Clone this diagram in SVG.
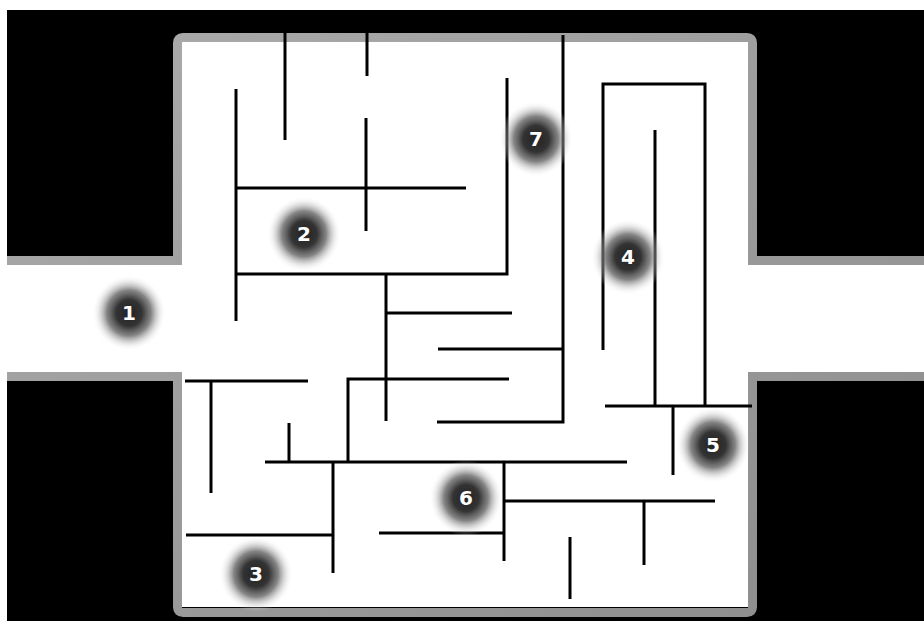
<svg xmlns="http://www.w3.org/2000/svg" width="924" height="621" viewBox="0 0 924 621">
<defs>
<radialGradient id="blob" cx="0.5" cy="0.5" r="0.5">
<stop offset="0" stop-color="#222" stop-opacity="1"/>
<stop offset="0.35" stop-color="#333" stop-opacity="1"/>
<stop offset="0.6" stop-color="#666" stop-opacity="0.8"/>
<stop offset="0.82" stop-color="#bbb" stop-opacity="0.35"/>
<stop offset="1" stop-color="#fff" stop-opacity="0"/>
</radialGradient>
<linearGradient id="bdr" x1="0" y1="0" x2="1" y2="1">
<stop offset="0" stop-color="#ababab"/>
<stop offset="1" stop-color="#8c8c8c"/>
</linearGradient>
</defs>
<style>
.wall{fill:none;stroke:#000;stroke-width:3;stroke-linecap:butt;stroke-linejoin:miter}
.num{font-family:"DejaVu Sans",Verdana,sans-serif;font-weight:bold;font-size:20px;fill:#fff;text-anchor:middle;dominant-baseline:central}
</style>
<rect x="0" y="0" width="924" height="621" fill="#fff"/>
<rect x="7" y="10" width="917" height="611" fill="#000"/>
<g id="floor">
<rect x="182" y="42" width="566" height="565" fill="#fff"/>
<rect x="7" y="265" width="917" height="107" fill="#fff"/>
<path d="M7 260.5 H177.5 V43 Q177.5 37.5 183 37.5 H747 Q752.5 37.5 752.5 43 V260.5 H924 M924 376.5 H752.5 V607 Q752.5 612.5 747 612.5 H183 Q177.5 612.5 177.5 607 V376.5 H7" fill="none" stroke="url(#bdr)" stroke-width="9"/>
</g>
<g id="connectors">
<path class="wall" d="M236 89 V321"/>
<path class="wall" d="M285 33 V140"/>
<path class="wall" d="M367 33 V76"/>
<path class="wall" d="M366 118 V231"/>
<path class="wall" d="M236 188 H466"/>
<path class="wall" d="M236 274 H507 V78"/>
<path class="wall" d="M563 35 V422 H437"/>
<path class="wall" d="M386 274 V421"/>
<path class="wall" d="M386 313 H512"/>
<path class="wall" d="M438 349 H563"/>
<path class="wall" d="M348 462 V379 H509"/>
<path class="wall" d="M603 350 V84 H705 V406"/>
<path class="wall" d="M655 130 V406"/>
<path class="wall" d="M605 406 H752"/>
<path class="wall" d="M673 406 V475"/>
<path class="wall" d="M265 462 H627"/>
<path class="wall" d="M289 423 V462"/>
<path class="wall" d="M185 381 H308"/>
<path class="wall" d="M211 381 V493"/>
<path class="wall" d="M333 462 V573"/>
<path class="wall" d="M186 535 H333"/>
<path class="wall" d="M504 462 V561"/>
<path class="wall" d="M504 501 H715"/>
<path class="wall" d="M379 533 H504"/>
<path class="wall" d="M644 501 V565"/>
<path class="wall" d="M570 537 V599"/>
</g>
<g id="n1"><ellipse cx="129" cy="313" rx="37" ry="38" fill="url(#blob)"/><text class="num" x="129" y="313">1</text></g>
<g id="n2"><ellipse cx="304" cy="234" rx="37" ry="38" fill="url(#blob)"/><text class="num" x="304" y="234">2</text></g>
<g id="n3"><ellipse cx="256" cy="574" rx="37" ry="38" fill="url(#blob)"/><text class="num" x="256" y="574">3</text></g>
<g id="n4"><ellipse cx="628" cy="257" rx="37" ry="38" fill="url(#blob)"/><text class="num" x="628" y="257">4</text></g>
<g id="n5"><ellipse cx="713" cy="445" rx="37" ry="38" fill="url(#blob)"/><text class="num" x="713" y="445">5</text></g>
<g id="n6"><ellipse cx="466" cy="498" rx="37" ry="38" fill="url(#blob)"/><text class="num" x="466" y="498">6</text></g>
<g id="n7"><ellipse cx="536" cy="139" rx="37" ry="38" fill="url(#blob)"/><text class="num" x="536" y="139">7</text></g>
</svg>
